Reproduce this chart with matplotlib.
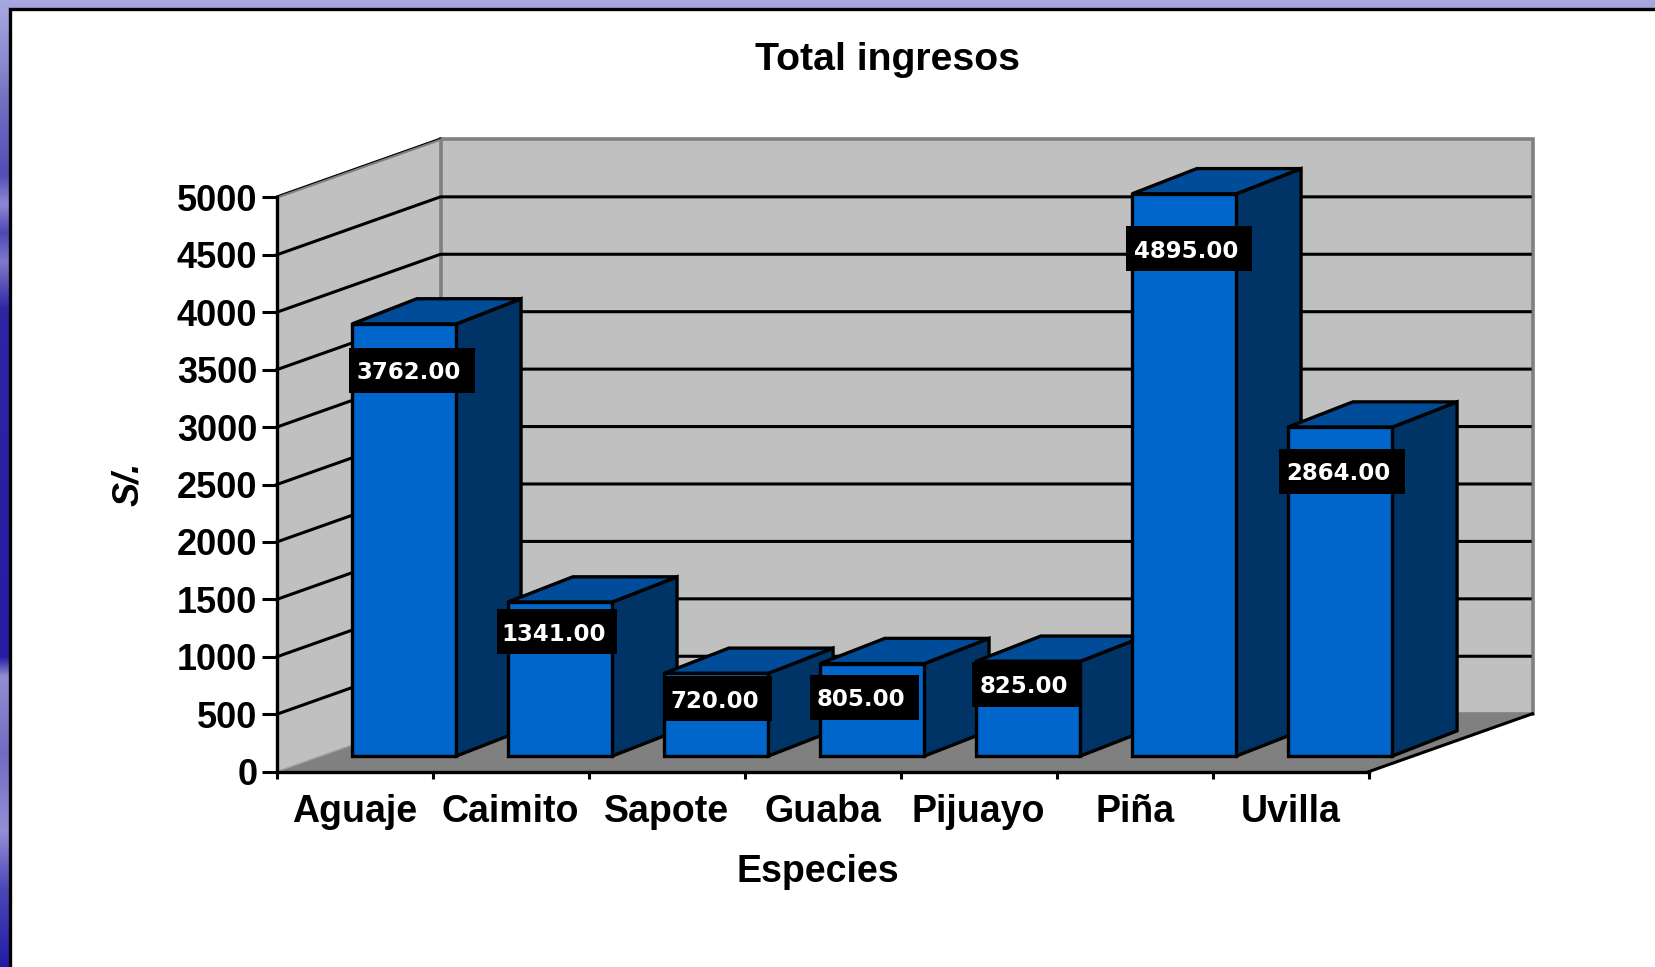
import matplotlib
matplotlib.use('Agg')
import matplotlib.pyplot as plt
import numpy as np
from matplotlib.patches import Polygon, Rectangle

especies = ['Aguaje', 'Caimito', 'Sapote', 'Guaba', 'Pijuayo', 'Piña', 'Uvilla']
ingresos = [3762.00, 1341.00, 720.00, 805.00, 825.00, 4895.00, 2864.00]
y_ticks = [0, 500, 1000, 1500, 2000, 2500, 3000, 3500, 4000, 4500, 5000]

# hand placed label boxes, in chart units
label_dx = [0.05, -0.02, 0.01, -0.05, -0.01, 0.03, 0.01]
label_drop = [404, 257, 220, 294, 202, 478, 386]
label_w = [0.81, 0.77, 0.70, 0.70, 0.70, 0.81, 0.81]
label_h = 395

# oblique "3d" look: depth 0 is the front plane, depth 1 the back wall
DEPTH_X = 1.05
DEPTH_Y = 505
BAR_D0, BAR_D1 = 0.27, 0.665
BAR_INSET, BAR_W = 0.20, 0.668
BACK_LIFT = 20

# colours down the slide background strip (row position, r, g, b)
bg_stops = [(0.00, 0.66, 0.66, 0.88), (0.06, 0.55, 0.55, 0.82), (0.10, 0.45, 0.45, 0.76),
            (0.18, 0.32, 0.30, 0.72), (0.21, 0.56, 0.54, 0.84), (0.24, 0.30, 0.28, 0.70),
            (0.27, 0.50, 0.48, 0.80), (0.32, 0.18, 0.14, 0.64), (0.68, 0.15, 0.11, 0.64),
            (0.70, 0.58, 0.56, 0.82), (0.78, 0.45, 0.42, 0.76), (0.86, 0.58, 0.56, 0.84),
            (0.92, 0.30, 0.28, 0.72), (1.00, 0.13, 0.11, 0.65)]


def pr(x, y, d=0.0):
    return (x + d * DEPTH_X, y + d * DEPTH_Y)


W, H = 1568, 916
fig = plt.figure(figsize=(16.56, 9.67), dpi=100)
plt.rcParams['font.family'] = ['Liberation Sans', 'DejaVu Sans']

# slide background behind the white panel
bg = fig.add_axes([0, 0, 1, 1], zorder=0)
bg.axis('off')
rows = np.linspace(0, 1, 400)
st = np.array(bg_stops)
col = np.array([np.interp(rows, st[:, 0], st[:, c]) for c in (1, 2, 3)]).T
bg.imshow(col[:, None, :], aspect='auto', extent=[0, 1, 0, 1], interpolation='bilinear')
bg.add_patch(Rectangle((9 / W, -0.01), 1.1, 1.01 - 8.5 / H, transform=bg.transAxes,
                       facecolor='white', edgecolor='black', linewidth=2.4))
bg.set_xlim(0, 1)
bg.set_ylim(0, 1)

ax = fig.add_axes([262 / W, 1 - 731 / H, (1296 - 262) / W, (731 - 187) / H], zorder=1)
ax.patch.set_alpha(0)
ax.set_xlim(0, 7)
ax.set_ylim(0, 5000)
for s in ['top', 'right']:
    ax.spines[s].set_visible(False)
for s in ['left', 'bottom']:
    ax.spines[s].set_linewidth(2.4)
    ax.spines[s].set_zorder(6)

n = len(especies)
ymax = y_ticks[-1]


def add_poly(pts, fc, ec='none', lw=0, z=1):
    ax.add_patch(Polygon(pts, closed=True, facecolor=fc, edgecolor=ec, linewidth=lw,
                         joinstyle='miter', clip_on=False, zorder=z))


# walls and floor
add_poly([pr(0, 0), pr(0, 0, 1), pr(n, 0, 1), pr(n, 0)], '#808080')
add_poly([pr(0, 0), pr(0, 0, 1), pr(0, ymax, 1), pr(0, ymax)], '#C0C0C0')
add_poly([pr(0, 0, 1), pr(n, 0, 1), pr(n, ymax, 1), pr(0, ymax, 1)], '#C0C0C0')

# wall border
back = [pr(0, ymax, 1), pr(n, ymax, 1), pr(n, 0, 1), pr(0, 0, 1)]
ax.plot(*zip(*back), color='#808080', lw=2.6, clip_on=False, zorder=1.2, solid_joinstyle='miter')
ax.plot(*zip(pr(0, 0, 1), pr(0, ymax, 1)), color='#808080', lw=2.6, clip_on=False, zorder=1.2)
ax.plot(*zip(pr(0, ymax), pr(0, ymax, 1)), color='#808080', lw=2.0, clip_on=False, zorder=1.2)
ax.plot(*zip(pr(0, ymax + 12), pr(0, ymax + 12, 1)), color='black', lw=0.8, clip_on=False, zorder=1.25)
ax.plot(*zip(pr(0, 0), pr(0, 0, 1)), color='#A0A0A0', lw=1.0, clip_on=False, zorder=1.2)
ax.plot(*zip(pr(n, 0), pr(n, 0, 1)), color='black', lw=2.2, clip_on=False, zorder=1.3)

# gridlines run along the side wall, then across the back wall
for v in y_ticks[1:-1]:
    gx = [pr(0, v), pr(0, v, 1), (pr(n, v, 1)[0] - 0.015, pr(n, v, 1)[1])]
    ax.plot(*zip(*gx), color='black', lw=2.2, clip_on=False, zorder=1.5, solid_joinstyle='miter')

# bars, left to right so each one covers the side of the previous
for i, v in enumerate(ingresos):
    x0 = i + BAR_INSET
    x1 = x0 + BAR_W
    z = 2 + i * 0.1
    add_poly([pr(x1, 0, BAR_D0), pr(x1, BACK_LIFT, BAR_D1), pr(x1, v + BACK_LIFT, BAR_D1), pr(x1, v, BAR_D0)],
             '#003366', 'black', 2.4, z)
    add_poly([pr(x0, v, BAR_D0), pr(x0, v + BACK_LIFT, BAR_D1), pr(x1, v + BACK_LIFT, BAR_D1), pr(x1, v, BAR_D0)],
             '#004C99', 'black', 2.4, z)
    add_poly([pr(x0, 0, BAR_D0), pr(x1, 0, BAR_D0), pr(x1, v, BAR_D0), pr(x0, v, BAR_D0)],
             '#0066CC', 'black', 2.4, z)

# value boxes
for i, v in enumerate(ingresos):
    cx, fy = pr(i + BAR_INSET + BAR_W / 2 + label_dx[i], v - label_drop[i], BAR_D0)
    ax.add_patch(Rectangle((cx - label_w[i] / 2, fy - label_h / 2), label_w[i], label_h,
                           facecolor='black', edgecolor='none', clip_on=False, zorder=5))
    ax.text(cx - 0.02, fy, '%.2f' % v, color='white', ha='center', va='center_baseline',
            fontsize=16.5, fontweight='bold', family='DejaVu Sans', zorder=5.1, clip_on=False)

# ticks: major at the slot edges, category names on minor ticks at the centres
ax.set_yticks(y_ticks)
ax.set_xticks(np.arange(n + 1))
ax.set_xticklabels([])
ax.set_xticks(np.arange(n) + 0.5, minor=True)
ax.set_xticklabels(especies, minor=True)
ax.tick_params(axis='x', which='minor', length=0, pad=16, labelsize=27)
ax.tick_params(axis='x', which='major', length=5, width=2.2)
ax.tick_params(axis='y', length=11, width=2.2, labelsize=26, pad=3)
for t in ax.get_xticklabels(minor=True) + ax.get_yticklabels():
    t.set_fontweight('bold')

fig.text(840 / W, 1 - 57 / H, 'Total ingresos', ha='center', va='center', fontsize=28.3, fontweight='bold')
fig.text(774 / W, 1 - 826 / H, 'Especies', ha='center', va='center', fontsize=27, fontweight='bold')
fig.text(122 / W, 1 - 458 / H, 'S/.', ha='center', va='center', rotation=90, fontsize=26,
         fontweight='bold', fontstyle='italic')

fig.savefig('out.png', dpi=100)
